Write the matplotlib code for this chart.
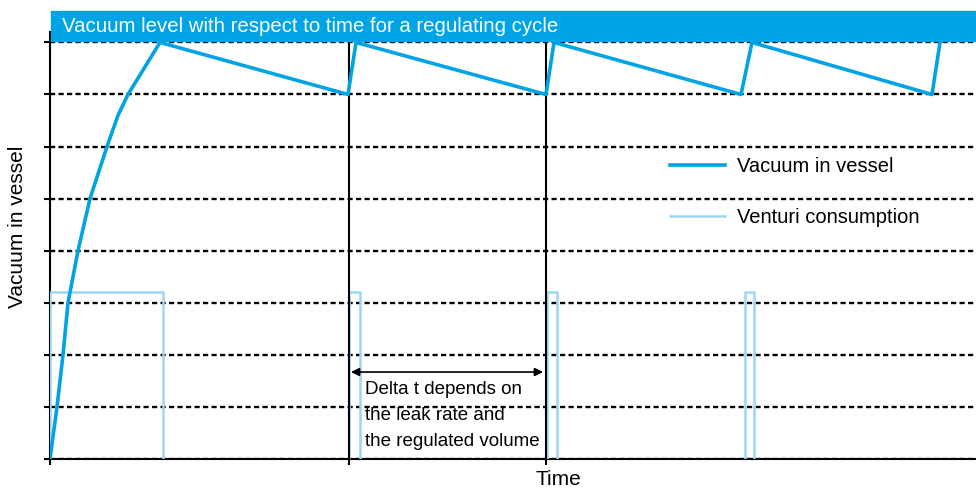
import matplotlib
matplotlib.use("Agg")
from matplotlib import pyplot as plt
from matplotlib.patches import Rectangle

# vacuum in vessel (time in arbitrary units, vacuum in grid steps)
vac_t = [0, 0.7, 1.3, 1.8, 2.8, 4.0, 5.7, 6.8, 7.8, 11.0,
         29.8, 30.6, 49.6, 50.4, 69.1, 70.2, 88.2, 89.0]
vac_v = [0, 1.0, 2.0, 3.0, 4.0, 5.0, 6.0, 6.6, 7.0, 8.0,
         7.0, 8.0, 7.0, 8.0, 7.0, 8.0, 7.0, 8.0]

# venturi consumption pulses
pulse_start = [0, 29.9, 49.7, 69.5]
pulse_end = [11.3, 31.0, 50.7, 70.4]
pulse_level = 3.2

regul_t = [29.9, 49.6]  # regulation instants (vertical lines)
delta_from, delta_to, delta_v = 30.1, 49.3, 1.67

title = "Vacuum level with respect to time for a regulating cycle"
note = "Delta t depends on\nthe leak rate and\nthe regulated volume"

blue = "#00a4e4"
light = "#9dd5f4"
plt.rcParams["font.family"] = ["Liberation Sans", "DejaVu Sans"]

fig = plt.figure(figsize=(9.76, 4.88), dpi=100)
ax = fig.add_axes([50 / 976, 29 / 488, 926 / 976, 427 / 488])

#title bar
fig.patches.append(Rectangle((51 / 976, 447 / 488), 925 / 976, 30 / 488,
                             transform=fig.transFigure, color=blue, zorder=0))
fig.text(62 / 976, 462 / 488, title, color="white", fontsize=14.7, va="center", ha="left")

for s, e in zip(pulse_start, pulse_end):
    ax.plot([s, s, e, e], [0, pulse_level, pulse_level, 0], color=light, lw=1.8, zorder=3)
ax.plot([], [], color=light, lw=1.8, label="Venturi consumption")

ax.plot(vac_t, vac_v, color=blue, lw=2.6, zorder=4, label="Vacuum in vessel")
ax.vlines(regul_t, 0, 8.05, color="black", lw=1.5, zorder=3)

ax.annotate("", xy=(delta_from, delta_v), xytext=(delta_to, delta_v),
            arrowprops=dict(arrowstyle="<|-|>", color="black", lw=1.2,
                            mutation_scale=12, shrinkA=0, shrinkB=0))
ax.text(31.5, 1.49, note, fontsize=13.5, va="top", ha="left", linespacing=1.68)

ax.set_xlim(0, 92.6)
ax.set_ylim(0, 8.2)
ax.set_yticks(range(0, 9))
ax.set_xticks([0] + regul_t)
ax.set_yticklabels([])
ax.set_xticklabels([])
ax.tick_params(axis="both", direction="out", length=4, width=1.5, color="black")
ax.grid(axis="y", color="black", lw=1.7, ls=(0, (2.2, 1.4)))
ax.set_axisbelow(True)
for side in ["top", "right"]:
    ax.spines[side].set_visible(False)
for side in ["left", "bottom"]:
    ax.spines[side].set_linewidth(1.5)

ax.text((18 - 50) / 926, 0.543, "Vacuum in vessel", rotation=90, fontsize=15,
        transform=ax.transAxes, ha="center", va="center")
ax.text((558 - 50) / 926, -0.047, "Time", fontsize=15,
        transform=ax.transAxes, ha="center", va="center")

h, l = ax.get_legend_handles_labels()
leg = ax.legend(h[::-1], l[::-1], loc="upper left",
                bbox_to_anchor=((670 - 50) / 926, (459 - 157) / 427),
                frameon=False, fontsize=14.5, handlelength=2.75, handletextpad=0.6,
                labelspacing=1.6, borderpad=0, borderaxespad=0)

plt.savefig("out.png", dpi=100)
